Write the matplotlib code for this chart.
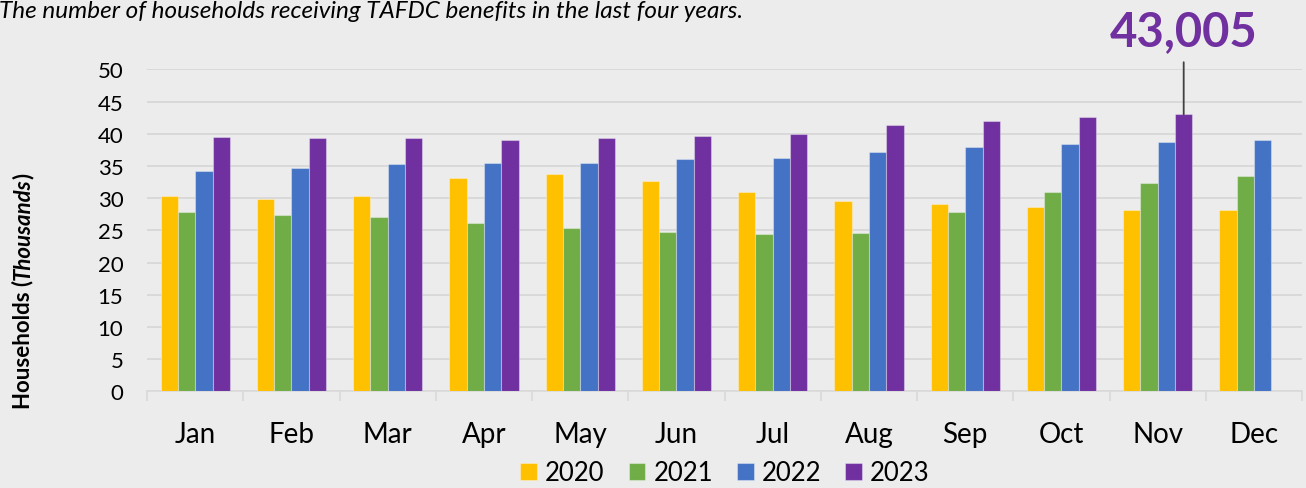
#!/usr/bin/env python3
"""
TAFDC households bar chart, grouped by month for 2020-2023.
"""

import matplotlib
matplotlib.use("Agg")
import matplotlib.pyplot as plt
import numpy as np

plt.rcParams['font.family'] = ['Lato', 'DejaVu Sans']

# Data (thousands of households)
months = ['Jan', 'Feb', 'Mar', 'Apr', 'May', 'Jun',
          'Jul', 'Aug', 'Sep', 'Oct', 'Nov', 'Dec']
years = ['2020', '2021', '2022', '2023']
hh_2020 = [30.4, 29.8, 30.3, 33.1, 33.8, 32.7, 30.9, 29.5, 29.1, 28.6, 28.1, 28.2]
hh_2021 = [27.9, 27.4, 27.1, 26.1, 25.3, 24.7, 24.4, 24.6, 27.8, 30.9, 32.4, 33.4]
hh_2022 = [34.2, 34.7, 35.3, 35.4, 35.5, 36.1, 36.3, 37.2, 37.9, 38.4, 38.7, 39.1]
hh_2023 = [39.5, 39.4, 39.3, 39.1, 39.4, 39.6, 40.0, 41.4, 42.0, 42.6, 43.005, np.nan]
peak_label = '43,005'

series = [hh_2020, hh_2021, hh_2022, hh_2023]
colors = ['#FFC000', '#70AD47', '#4472C4', '#7030A0']
bg = '#ECECEC'
grid_color = '#D9D9D9'

W, H = 1306, 489
fig = plt.figure(figsize=(W / 100, H / 100), dpi=100, facecolor=bg)
ax = fig.add_axes([0.1126, 0.1977, 0.8844, 0.6585], facecolor=bg)

x = np.arange(len(months))
width = 0.18
for i, (vals, col, yr) in enumerate(zip(series, colors, years)):
    offs = (i - 1.5) * width
    ax.bar(x + offs, vals, width, color=col, label=yr,
           edgecolor=(1, 1, 1, 0.35), linewidth=0.8, zorder=3)

ax.set_xlim(-0.5, len(months) - 0.5)
ax.set_ylim(0, 50)
ax.set_yticks(np.arange(0, 51, 5))
ax.yaxis.grid(True, color=grid_color, linewidth=1.4, zorder=0)
ax.set_axisbelow(True)

for s in ['top', 'right', 'left']:
    ax.spines[s].set_visible(False)
ax.spines['bottom'].set_color(grid_color)
ax.spines['bottom'].set_linewidth(1.2)

ax.set_xticks(x)
ax.set_xticklabels(months, fontsize=20)
ax.set_xticks(np.arange(-0.5, len(months), 1), minor=True)
ax.tick_params(axis='x', which='major', length=0, pad=21.5)
ax.tick_params(axis='x', which='minor', length=7, color=grid_color, width=1.2)
ax.tick_params(axis='y', length=0, labelsize=16, pad=17)

# Peak annotation over Nov 2023
peak_idx = 10
peak_x = x[peak_idx] + 1.5 * width
ax.annotate('', xy=(peak_x, hh_2023[peak_idx]), xytext=(peak_x, 51.1),
            annotation_clip=False,
            arrowprops=dict(arrowstyle='-', color='#404040', lw=1.3,
                            shrinkA=0, shrinkB=0))
ax.text(peak_x, 53.75, peak_label, ha='center', va='baseline', fontsize=34,
        fontweight='bold', color='#7030A0', clip_on=False)

# Title (top cropped as in the original)
fig.text(-0.001, 1 - 18 / H, 'The number of households receiving TAFDC '
         'benefits in the last four years.', fontsize=17.5, style='italic',
         ha='left', va='baseline', color='#000000')

# Y label with mixed styles, stacked bottom-to-top
renderer = fig.canvas.get_renderer()
parts = [('Households (', 'normal'), ('Thousands', 'italic'), (')', 'normal')]
texts = []
for txt, sty in parts:
    t = fig.text(0, 0, txt, rotation=90, fontsize=16, fontweight='bold',
                 style=sty, ha='left', va='center', rotation_mode='anchor')
    texts.append(t)
lengths = [t.get_window_extent(renderer).height for t in texts]
ypix = 291 + sum(lengths) / 2
for t, ln in zip(texts, lengths):
    t.set_position((23 / W, 1 - ypix / H))
    ypix -= ln

# Legend
handles, labels = ax.get_legend_handles_labels()
fig.legend(handles, labels, loc='center', ncol=4, frameon=False,
           bbox_to_anchor=(725 / W, 1 - 474 / H), fontsize=18.5,
           handlelength=0.66, handleheight=0.66, handletextpad=0.31,
           columnspacing=0.93)

fig.savefig('out.png', dpi=100, facecolor=bg)
